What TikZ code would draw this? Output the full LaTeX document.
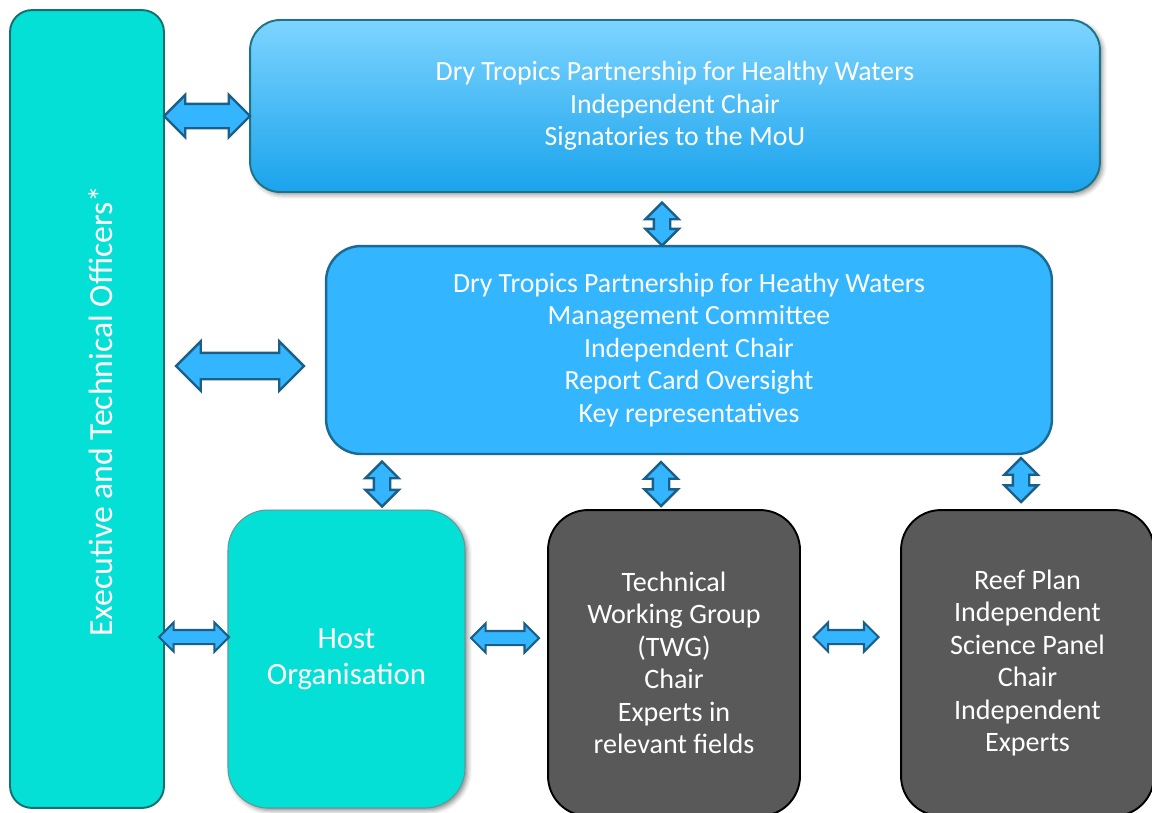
\documentclass[tikz,border=0pt]{standalone}
\usepackage{fontspec}
\setmainfont{Carlito}
\usepackage{xcolor}
\definecolor{colorTeal}{HTML}{05E0D6}
\definecolor{colorTealLine}{HTML}{127170}
\definecolor{colorSkyTop}{HTML}{7DD4FF}
\definecolor{colorSkyBottom}{HTML}{1AA3EC}
\definecolor{colorSkyLine}{HTML}{1E7486}
\definecolor{colorBlue}{HTML}{33B6FF}
\definecolor{colorBlueLine}{HTML}{1A6A94}
\definecolor{colorGrey}{HTML}{595959}
\definecolor{colorArrow}{HTML}{33B5FF}
\definecolor{colorArrowLine}{HTML}{1B5E86}
\usetikzlibrary{shapes.arrows, shadows.blur}
\tikzset{shade box/.style={blur shadow={shadow xshift=1.5pt, shadow yshift=-1.5pt, shadow blur radius=2.5pt, shadow opacity=45}}}

\begin{document}
\begin{tikzpicture}[x=0.02cm, y=-0.02cm, box/.style={draw, line width=1.1pt, text=white, align=center, inner sep=0pt}, biarrow/.style n args={4}{double arrow, draw=colorArrowLine, fill=colorArrow, line width=1.4pt, minimum height=#1, minimum width=#2, inner sep=#3, double arrow head extend=#4}]
\useasboundingbox (0,0) rectangle (1152,812);
\node[box, fill=colorTeal, draw=colorTealLine, rounded corners=0.44cm, minimum width=3.08cm, minimum height=15.96cm] (exec) at (87,409) {};
\node[rotate=90, text=white, font=\fontsize{19.2}{22}\selectfont] (exectext) at (101,411) {Executive and Technical Officers*};
\node[box, shade box, top color=colorSkyTop, bottom color=colorSkyBottom, draw=colorSkyLine, rounded corners=0.6cm, minimum width=17cm, minimum height=3.44cm, font=\fontsize{15.8}{18.6}\selectfont] (ptn) at (675,106) {Dry Tropics Partnership for Healthy Waters\\Independent Chair\\Signatories to the MoU};
\node[box, fill=colorBlue, draw=colorBlueLine, line width=1.4pt, rounded corners=0.7cm, minimum width=14.52cm, minimum height=4.16cm, font=\fontsize{15.8}{18.5}\selectfont] (mgmt) at (689,350) {Dry Tropics Partnership for Heathy Waters\\Management Committee\\Independent Chair\\Report Card Oversight\\Key representatives};
\node[box, shade box, fill=colorTeal, draw=colorTealLine!70, line width=0.6pt, rounded corners=0.8cm, minimum width=4.74cm, minimum height=5.96cm, font=\fontsize{17.6}{20.4}\selectfont] (host) at (346.5,659) {Host\\Organisation};
\node[box, fill=colorGrey, draw=black, rounded corners=0.8cm, minimum width=5.04cm, minimum height=6.12cm, font=\fontsize{16}{18.5}\selectfont] (twg) at (674,663) {Technical\\Working Group\\(TWG)\\Chair\\Experts in\\relevant fields};
\node[box, fill=colorGrey, draw=black, rounded corners=0.8cm, minimum width=5.06cm, minimum height=6.12cm, font=\fontsize{16}{18.5}\selectfont] (isp) at (1027.5,663) {Reef Plan\\Independent\\Science Panel\\Chair\\Independent\\Experts};
\node[biarrow={1.72cm}{0.8cm}{0.22cm}{0.18cm}] (exec-ptn) at (207,116) {};
\node[biarrow={2.56cm}{0.94cm}{0.24cm}{0.23cm}] (exec-mgmt) at (240,366) {};
\node[biarrow={0.86cm}{0.62cm}{0.14cm}{0.17cm}, shape border rotate=90] (ptn-mgmt) at (662,224) {};
\node[biarrow={0.9cm}{0.62cm}{0.14cm}{0.17cm}, shape border rotate=90] (mgmt-host) at (382,484) {};
\node[biarrow={0.88cm}{0.62cm}{0.14cm}{0.17cm}, shape border rotate=90] (mgmt-twg) at (661,484) {};
\node[biarrow={0.88cm}{0.62cm}{0.14cm}{0.17cm}, shape border rotate=90] (mgmt-isp) at (1021,480) {};
\node[biarrow={1.4cm}{0.54cm}{0.12cm}{0.15cm}, line width=1.2pt] (exec-host) at (194,637) {};
\node[biarrow={1.36cm}{0.54cm}{0.12cm}{0.15cm}, line width=1.2pt] (host-twg) at (505,638) {};
\node[biarrow={1.3cm}{0.54cm}{0.12cm}{0.15cm}, line width=1.2pt] (twg-isp) at (846,637) {};
\end{tikzpicture}
\end{document}
